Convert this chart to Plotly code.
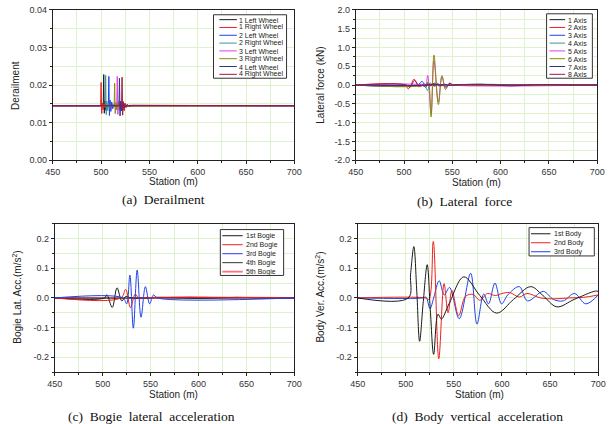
import plotly.graph_objects as go

# ---------------- DATA ----------------
x_ticks = [450, 500, 550, 600, 650, 700]

# (a) Derailment
a_names = ["1 Left Wheel", "1 Right Wheel", "2 Left Wheel", "2 Right Wheel",
           "3 Left Wheel", "3 Right Wheel", "4 Left Wheel", "4 Right Wheel"]
a_x_1L = [450, 502.2, 502.7, 503.3, 504.0, 504.8, 505.6, 506.6, 507.8, 509.0, 511.0, 513.5, 516, 520, 524, 528, 535, 700]
a_y_1L = [0.0145, 0.0145, 0.0228, 0.0125, 0.0158, 0.0133, 0.0152, 0.0138, 0.0150, 0.0141, 0.0148, 0.0143, 0.0147, 0.0144, 0.0146, 0.0145, 0.0145, 0.0145]
a_x_1R = [450, 499.5, 500.0, 500.6, 501.3, 502.1, 503.0, 504.0, 505.5, 507, 510, 700]
a_y_1R = [0.0145, 0.0145, 0.0207, 0.0124, 0.0152, 0.0134, 0.0150, 0.0140, 0.0148, 0.0143, 0.0145, 0.0145]
a_x_2L = [450, 507.5, 508.0, 508.6, 509.3, 510.1, 511.0, 512.0, 513.5, 515, 518, 700]
a_y_2L = [0.0145, 0.0145, 0.0223, 0.0119, 0.0160, 0.0130, 0.0155, 0.0137, 0.0150, 0.0142, 0.0145, 0.0145]
a_x_2R = [450, 504.2, 504.7, 505.3, 506.0, 506.8, 507.7, 508.7, 510, 512, 700]
a_y_2R = [0.0145, 0.0145, 0.0226, 0.0121, 0.0157, 0.0132, 0.0151, 0.0139, 0.0147, 0.0144, 0.0145]
a_x_3L = [450, 516.2, 516.7, 517.3, 518.0, 518.8, 519.7, 520.7, 522, 524, 700]
a_y_3L = [0.0145, 0.0145, 0.0223, 0.0122, 0.0156, 0.0133, 0.0151, 0.0140, 0.0148, 0.0144, 0.0145]
a_x_3R = [450, 513.5, 514.0, 514.6, 515.3, 516.1, 517.0, 518.0, 519.5, 521, 700]
a_y_3R = [0.0145, 0.0145, 0.0205, 0.0124, 0.0154, 0.0134, 0.0150, 0.0141, 0.0147, 0.0144, 0.0145]
a_x_4L = [450, 518.5, 519.0, 519.6, 520.3, 521.1, 522.0, 523.0, 524.5, 526, 529, 700]
a_y_4L = [0.0145, 0.0145, 0.0218, 0.0118, 0.0157, 0.0131, 0.0152, 0.0139, 0.0149, 0.0143, 0.0146, 0.0145]
a_x_4R = [450, 521.2, 521.7, 522.3, 523.0, 523.8, 524.7, 525.7, 527, 529, 532, 700]
a_y_4R = [0.0145, 0.0145, 0.0221, 0.0120, 0.0156, 0.0132, 0.0152, 0.0140, 0.0149, 0.0143, 0.0146, 0.0145]
a_y_ticks = [0.00, 0.01, 0.02, 0.03, 0.04]
a_y_text = ["0.00", "0.01", "0.02", "0.03", "0.04"]

# (b) Lateral force
b_names = ["1 Axis", "2 Axis", "3 Axis", "4 Axis", "5 Axis", "6 Axis", "7 Axis", "8 Axis"]
b_x_1 = [450, 515, 518, 521, 524, 527, 530, 533, 536, 540, 545, 560, 580, 600, 620, 650, 700]
b_y_1 = [0, 0, 0.02, -0.03, 0.04, -0.02, 0.03, 0.05, -0.02, 0.01, 0, 0.01, 0.02, 0, -0.01, 0, 0]
b_x_2 = [450, 501, 504.4, 507.5, 510.4, 513, 515.4, 518, 521, 525, 560, 600, 700]
b_y_2 = [0, 0, -0.10, 0.02, 0.16, 0.05, -0.05, 0.01, -0.01, 0, 0, 0, 0]
b_x_3 = [450, 514, 518.8, 522, 525.5, 529, 533, 560, 600, 620, 700]
b_y_3 = [0, 0, 0.10, -0.06, 0.03, -0.01, 0.01, 0, -0.01, -0.01, 0]
b_x_4 = [450, 518, 521, 524.3, 527, 530, 534, 540, 560, 590, 620, 700]
b_y_4 = [0, 0, 0.05, -0.15, 0.06, -0.02, 0.01, 0, 0.01, 0.02, -0.01, 0]
b_x_5 = [450, 520, 522.3, 524.5, 528, 531, 535.5, 539.2, 543, 546, 550, 700]
b_y_5 = [0, 0, -0.04, 0.26, -0.75, 0.65, -0.45, 0.22, -0.08, 0.03, 0, 0]
b_x_6 = [450, 522, 525, 528, 531, 535.6, 539.3, 543, 547, 551, 560, 700]
b_y_6 = [0, 0, 0.08, -0.85, 0.80, -0.52, 0.25, -0.12, 0.05, 0, 0, 0]
b_x_7 = [450, 526, 529, 532, 535, 538, 542, 546, 550, 570, 590, 610, 640, 670, 700]
b_y_7 = [0, 0, 0.02, -0.03, 0.04, -0.02, 0.02, -0.01, 0, 0.02, 0.01, -0.02, 0.01, 0, 0]
b_x_8 = [450, 503, 506, 511, 516, 520, 540, 544, 547.5, 551, 555, 700]
b_y_8 = [0, 0, -0.06, 0.12, -0.03, 0, 0, -0.05, 0.05, -0.01, 0, 0]
b_y_ticks = [-2.0, -1.5, -1.0, -0.5, 0.0, 0.5, 1.0, 1.5, 2.0]
b_y_text = ["-2.0", "-1.5", "-1.0", "-0.5", "0.0", "0.5", "1.0", "1.5", "2.0"]

# (c) Bogie lateral acceleration
c_names = ["1st Bogie", "2nd Bogie", "3rd Bogie", "4th Bogie", "5th Bogie"]
c_x_1 = [450, 502, 504.3, 510, 515, 520, 524, 530, 560, 700]
c_y_1 = [0, 0, 0.011, -0.032, 0.034, -0.010, 0.005, 0, 0, 0]
c_x_2 = [450, 519, 524, 529, 534, 538, 542, 700]
c_y_2 = [0, 0, 0.029, -0.033, 0.013, -0.003, 0, 0]
c_x_3 = [450, 521, 525, 528.4, 532, 536, 540, 544.6, 549, 553, 557, 700]
c_y_3 = [0, 0, -0.020, 0.077, -0.102, 0.094, -0.065, 0.038, -0.020, 0.010, 0, 0]
c_x_4 = [450, 540, 560, 580, 600, 620, 640, 660, 680, 700]
c_y_4 = [0, 0, 0.002, 0, -0.002, 0, 0.002, 0, -0.001, 0]
c_x_5 = [450, 560, 590, 620, 650, 700]
c_y_5 = [0, 0, 0.002, 0, 0.001, 0]
cd_y_ticks = [-0.2, -0.1, 0.0, 0.1, 0.2]
cd_y_text = ["-0.2", "-0.1", "0.0", "0.1", "0.2"]

# (d) Body vertical acceleration
d_names = ["1st Body", "2nd Body", "3rd Body"]
d_x_1 = [450, 502.6, 505, 508.4, 511.5, 514.4, 518, 522.3, 525.5, 529, 533.5, 537, 545, 560.3, 577, 594.4, 612, 629.8, 642, 657, 675, 697, 700]
d_y_1 = [0, 0, 0.08, 0.173, 0.02, -0.146, -0.02, 0.112, -0.04, -0.19, -0.055, -0.071, -0.02, 0.071, 0.008, -0.051, -0.005, 0.038, 0.01, -0.03, -0.005, 0.023, 0.022]
d_x_2 = [450, 520, 524, 528.6, 534.3, 539.8, 544, 548, 555, 562, 570, 577, 585, 593, 600, 608, 618, 626, 640, 655, 670, 685, 700]
d_y_2 = [0, 0, -0.005, 0.19, -0.205, 0.048, -0.05, 0.025, -0.06, 0.005, 0.012, -0.008, 0.015, 0.008, 0.015, 0.018, 0.003, 0.015, 0.0, -0.003, 0.0, 0.002, 0.01]
d_x_3 = [450, 518, 521, 525.2, 529, 534.7, 540, 545.5, 555.6, 567.4, 574, 581, 586, 592.7, 599.5, 606, 618, 626.5, 643, 653.4, 663.6, 675.4, 687, 700]
d_y_3 = [0, 0, 0.003, -0.036, 0.0, 0.058, 0.01, 0.035, -0.07, 0.083, -0.088, 0.013, -0.02, 0.05, -0.02, 0.01, 0.038, -0.01, 0.022, -0.005, -0.01, 0.015, -0.02, 0.01]

# ---------------- STYLE ----------------
W, H = 614, 424
def fx(p): return p / W
def fy(p): return 1 - p / H

COLORS8 = ["#1a1a1a", "#ee2020", "#2040ee", "#3a9a9a", "#e040e0", "#8a8a10", "#303090", "#a01840"]
GRID = "#ddf3c9"
AX = "#222222"
FONT = "Liberation Sans"
SERIF = "Liberation Serif"

fig = go.Figure()

def add(xs, ys, color, xa, ya, width=1.0, shape="spline"):
    line = dict(color=color, width=width, shape=shape)
    if shape == "spline":
        line["smoothing"] = 1.0
    fig.add_trace(go.Scatter(x=xs, y=ys, mode="lines", line=line, xaxis=xa, yaxis=ya,
                             showlegend=False, hoverinfo="skip"))

a_series = [(a_x_1L, a_y_1L), (a_x_1R, a_y_1R), (a_x_2L, a_y_2L), (a_x_2R, a_y_2R),
            (a_x_3L, a_y_3L), (a_x_3R, a_y_3R), (a_x_4L, a_y_4L), (a_x_4R, a_y_4R)]
for i, (xs, ys) in enumerate(a_series):
    add(xs, ys, COLORS8[i], "x", "y", 1.0, "linear")

b_series = [(b_x_1, b_y_1), (b_x_2, b_y_2), (b_x_3, b_y_3), (b_x_4, b_y_4),
            (b_x_5, b_y_5), (b_x_6, b_y_6), (b_x_7, b_y_7), (b_x_8, b_y_8)]
for i, (xs, ys) in enumerate(b_series):
    add(xs, ys, COLORS8[i], "x2", "y2")

c_colors = ["#1a1a1a", "#ee2020", "#2040ee", "#333333", "#ff6f7f"]
c_widths = [1.0, 1.0, 1.0, 1.0, 1.8]
c_series = [(c_x_1, c_y_1), (c_x_2, c_y_2), (c_x_3, c_y_3), (c_x_4, c_y_4), (c_x_5, c_y_5)]
for i in [4, 3, 0, 1, 2]:
    xs, ys = c_series[i]
    add(xs, ys, c_colors[i], "x3", "y3", c_widths[i])

d_colors = ["#1a1a1a", "#ee2020", "#2040ee"]
d_series = [(d_x_1, d_y_1), (d_x_2, d_y_2), (d_x_3, d_y_3)]
for i in [2, 1, 0]:
    xs, ys = d_series[i]
    add(xs, ys, d_colors[i], "x4", "y4")

def xaxis(dom, anchor):
    return dict(domain=dom, anchor=anchor, range=[450, 700], tickmode="array",
                tickvals=x_ticks, ticktext=[str(v) for v in x_ticks],
                showline=True, linecolor=AX, linewidth=1, mirror=True,
                ticks="outside", ticklen=3, tickcolor=AX,
                showgrid=True, gridcolor=GRID, gridwidth=1, zeroline=False,
                tickfont=dict(family=FONT, size=9, color="#333"),
                minor=dict(dtick=25, tick0=0, showgrid=True, gridcolor=GRID,
                           ticks="outside", ticklen=2, tickcolor=AX))

def yaxis(dom, anchor, rng, tv, tt, mdt):
    return dict(domain=dom, anchor=anchor, range=rng, tickmode="array",
                tickvals=tv, ticktext=tt,
                showline=True, linecolor=AX, linewidth=1, mirror=True,
                ticks="outside", ticklen=3, tickcolor=AX,
                showgrid=True, gridcolor=GRID, gridwidth=1, zeroline=False,
                tickfont=dict(family=FONT, size=9, color="#333"),
                minor=dict(dtick=mdt, tick0=0, showgrid=True, gridcolor=GRID,
                           ticks="outside", ticklen=2, tickcolor=AX))

top_y = [fy(159), fy(5)]
bot_y = [fy(376), fy(224)]
fig.update_layout(
    width=W, height=H, margin=dict(l=0, r=0, t=0, b=0),
    paper_bgcolor="white", plot_bgcolor="white", showlegend=False,
    xaxis=xaxis([fx(46), fx(294)], "y"),
    yaxis=yaxis(top_y, "x", [0, 0.04], a_y_ticks, a_y_text, 0.005),
    xaxis2=xaxis([fx(357), fx(605)], "y2"),
    yaxis2=yaxis(top_y, "x2", [-2, 2], b_y_ticks, b_y_text, 0.25),
    xaxis3=xaxis([fx(48), fx(294)], "y3"),
    yaxis3=yaxis(bot_y, "x3", [-0.25, 0.25], cd_y_ticks, cd_y_text, 0.05),
    xaxis4=xaxis([fx(359), fx(606)], "y4"),
    yaxis4=yaxis(bot_y, "x4", [-0.25, 0.25], cd_y_ticks, cd_y_text, 0.05),
)

ann = []
shapes = []

def text(x, y, s, size=10, fam=FONT, xa="center", ya="middle", angle=0, color="#222", h=None):
    d = dict(x=fx(x), y=fy(y), xref="paper", yref="paper", text=s, showarrow=False,
             xanchor=xa, yanchor=ya, textangle=angle,
             font=dict(family=fam, size=size, color=color))
    if h is not None:
        d["height"] = h
        d["borderpad"] = 0
    ann.append(d)

# axis titles
text(170, 181, "Station (m)")
text(481, 182, "Station (m)")
text(170, 399, "Station (m)")
text(484, 399, "Station (m)")
text(7, 82, "Derailment", angle=-90)
text(320, 82, "Lateral force (kN)", angle=-90)
text(9, 299, "Bogie Lat. Acc.(m/s<sup>2</sup>)", angle=-90)
text(320, 299, "Body Ver. Acc.(m/s<sup>2</sup>)", angle=-90)

# captions
text(160, 199.5, "(a)  Derailment", size=13.5, fam=SERIF, color="#111")
text(469, 201, "(b)  Lateral  force", size=13.5, fam=SERIF, color="#111")
text(147, 412, "(c)  Bogie  lateral  acceleration", size=13.5, fam=SERIF, ya="top", color="#111")
text(482, 412, "(d)  Body  vertical  acceleration", size=13.5, fam=SERIF, ya="top", color="#111")

def legend(box, rows, lx0, lx1, tx, names, colors, widths=None, fs=7):
    shapes.append(dict(type="rect", xref="paper", yref="paper",
                       x0=fx(box[0]), x1=fx(box[1]), y0=fy(box[3]), y1=fy(box[2]),
                       line=dict(color="#333", width=1), fillcolor="white", layer="above"))
    for i, (r, n, c) in enumerate(zip(rows, names, colors)):
        w = widths[i] if widths else 1
        shapes.append(dict(type="line", xref="paper", yref="paper",
                           x0=fx(lx0), x1=fx(lx1), y0=fy(r), y1=fy(r),
                           line=dict(color=c, width=w), layer="above"))
        text(tx, r, n, size=fs, xa="left", color="#222", h=8)

legend((211, 286, 10, 75), [15, 23, 31, 39, 47, 55, 63, 71], 217, 235, 236, a_names, COLORS8)
legend((553, 600, 9, 75), [15, 23, 31, 39, 47, 55, 63, 71], 556, 572, 574, b_names, COLORS8)
legend((218, 283, 230, 277), [236.3, 245.5, 254.7, 263.9, 273.1], 220, 241, 243, c_names, c_colors, c_widths)
legend((535, 602, 228, 257), [234.3, 243.5, 252.7], 537, 557, 560, d_names, d_colors)

fig.update_layout(annotations=ann, shapes=shapes)
fig.write_html("out.html")
